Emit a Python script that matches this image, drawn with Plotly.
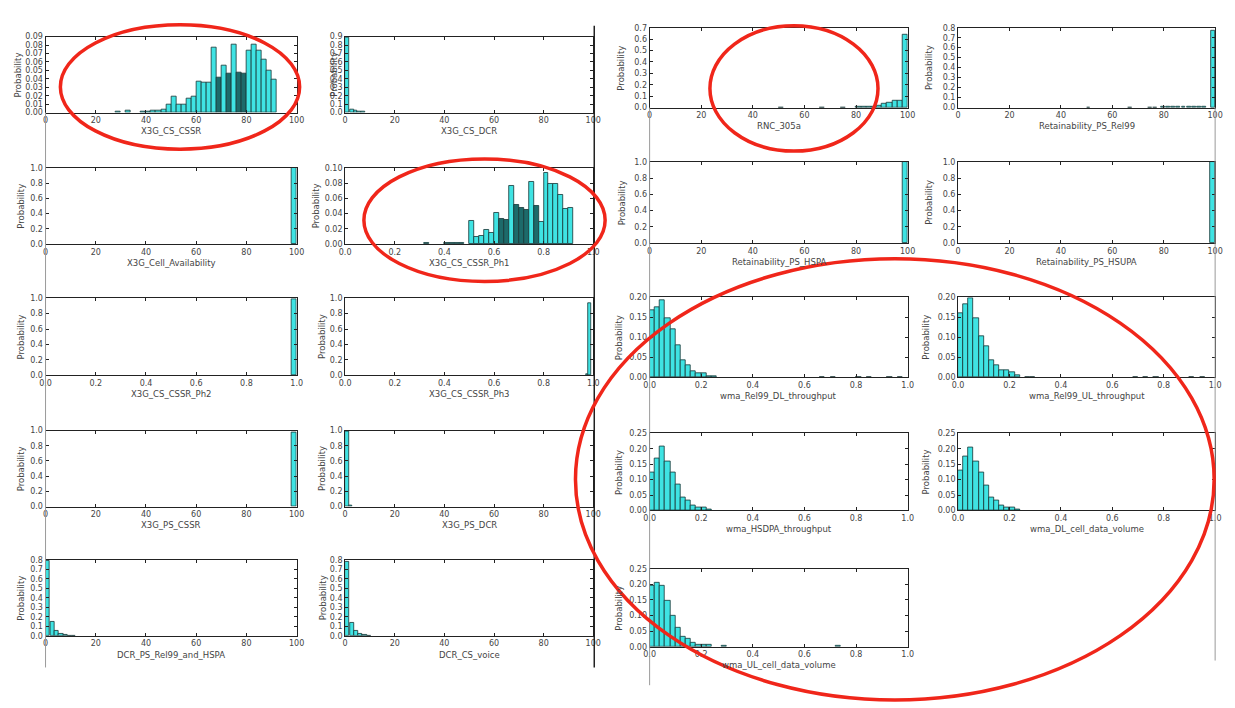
import plotly.graph_objects as go

W, H = 1235, 708

# ---------------- data (bin starts, bin width, probabilities) ----------------
cssr_x = [28, 32, 38, 40, 42, 44, 46, 48, 50, 52, 54, 56, 58, 60, 62, 64, 66, 68, 70, 72, 74, 76, 78, 80, 82, 84, 86, 88, 90]
cssr_p = [0.001, 0.002, 0.001, 0.001, 0.002, 0.002, 0.003, 0.010, 0.019, 0.009, 0.010, 0.017, 0.019, 0.037, 0.035, 0.035,
          0.077, 0.042, 0.056, 0.046, 0.081, 0.047, 0.046, 0.074, 0.080, 0.074, 0.063, 0.050, 0.039]
cssr_dark = [68, 72, 76, 78]

dcr_x = [0, 2, 3.5, 5, 6.5]
dcr_p = [0.89, 0.04, 0.025, 0.015, 0.01]

avail_x = [98]
avail_p = [1.0]

ph1_x = [0.32, 0.40, 0.42, 0.44, 0.46, 0.50, 0.52, 0.54, 0.56, 0.58, 0.60, 0.62, 0.64, 0.66, 0.68, 0.70, 0.72, 0.74,
         0.76, 0.78, 0.80, 0.82, 0.84, 0.86, 0.88, 0.90]
ph1_p = [0.002, 0.002, 0.002, 0.002, 0.001, 0.030, 0.009, 0.011, 0.018, 0.014, 0.041, 0.033, 0.032, 0.076, 0.051,
         0.047, 0.045, 0.082, 0.050, 0.029, 0.093, 0.079, 0.079, 0.065, 0.046, 0.047]
ph1_dark = [0.62, 0.64, 0.68, 0.70, 0.72, 0.76]

ph2_x = [0.98]
ph2_p = [0.99]

ph3_x = [0.97, 0.98]
ph3_p = [0.01, 0.94]

pscssr_x = [98]
pscssr_p = [0.97]

psdcr_x = [0, 1.5]
psdcr_p = [0.99, 0.02]

dcrps_x = [0, 1.9, 3.6, 5.3, 7.0, 8.7, 10.4]
dcrps_p = [0.79, 0.15, 0.05, 0.02, 0.01, 0.005, 0.004]

dcrv_x = [0, 1.9, 3.6, 5.3, 7.0, 8.7]
dcrv_p = [0.78, 0.14, 0.05, 0.02, 0.01, 0.005]

rnc_x = [50, 66, 74, 80, 82, 84, 86, 88, 90, 92, 94, 96, 98]
rnc_p = [0.002, 0.002, 0.002, 0.005, 0.005, 0.005, 0.006, 0.015, 0.038, 0.040, 0.061, 0.062, 0.642]

ret99_x = [50, 66, 74, 76, 79, 81, 83, 85, 87, 89, 91, 93, 95, 98.5]
ret99_p = [0.003, 0.003, 0.003, 0.003, 0.005, 0.005, 0.005, 0.006, 0.006, 0.007, 0.006, 0.006, 0.007, 0.77]

rethspa_x = [98]
rethspa_p = [1.0]

rethsupa_x = [98]
rethsupa_p = [1.0]

dl_x = [0.00, 0.02, 0.04, 0.06, 0.08, 0.10, 0.12, 0.14, 0.16, 0.18, 0.20, 0.22, 0.24, 0.66, 0.70, 0.80, 0.84, 0.92, 0.96]
dl_p = [0.168, 0.176, 0.192, 0.147, 0.121, 0.079, 0.042, 0.029, 0.016, 0.011, 0.010, 0.003, 0.002,
        0.001, 0.001, 0.001, 0.001, 0.001, 0.001]

ul_x = [0.00, 0.02, 0.04, 0.06, 0.08, 0.10, 0.12, 0.14, 0.16, 0.18, 0.20, 0.22, 0.26, 0.28, 0.68, 0.72, 0.76, 0.90, 0.94]
ul_p = [0.160, 0.183, 0.197, 0.147, 0.103, 0.078, 0.043, 0.030, 0.017, 0.017, 0.012, 0.004,
        0.001, 0.001, 0.001, 0.001, 0.001, 0.001, 0.001]

hsdpa_x = [0.00, 0.02, 0.04, 0.06, 0.08, 0.10, 0.12, 0.14, 0.16, 0.18, 0.20, 0.22]
hsdpa_p = [0.125, 0.170, 0.207, 0.160, 0.125, 0.083, 0.042, 0.032, 0.015, 0.010, 0.010, 0.003]

dlvol_x = [0.00, 0.02, 0.04, 0.06, 0.08, 0.10, 0.12, 0.14, 0.16, 0.18, 0.20, 0.22]
dlvol_p = [0.130, 0.175, 0.205, 0.160, 0.122, 0.082, 0.042, 0.032, 0.016, 0.010, 0.010, 0.003]

ulvol_x = [0.00, 0.02, 0.04, 0.06, 0.08, 0.10, 0.12, 0.14, 0.16, 0.18, 0.20, 0.22, 0.28, 0.72]
ulvol_p = [0.197, 0.205, 0.197, 0.148, 0.100, 0.060, 0.033, 0.025, 0.012, 0.008, 0.006, 0.006, 0.003, 0.002]

x100_ticks = [0, 20, 40, 60, 80, 100]
x1_ticks = [0.0, 0.2, 0.4, 0.6, 0.8, 1.0]

# ---------------- panel definitions ----------------
LA, LB = (40, 294), (343, 594)
RC, RD = (651, 912), (963, 1223)
LROWS = [(33, 110), (166, 243), (298, 376), (432, 509), (563, 640)]
RROWS = [(24, 105), (160, 242), (297, 378), (435, 513), (572, 651)]

panels = [
    ("X3G_CS_CSSR", cssr_x, cssr_p, 2, 100, 0.09, 0.01, ".2f", cssr_dark, LA, LROWS[0], 12),
    ("X3G_CS_DCR", dcr_x, dcr_p, 1.5, 100, 0.9, 0.1, ".1f", [], LB, LROWS[0], 331),
    ("X3G_Cell_Availability", avail_x, avail_p, 2, 100, 1.0, 0.2, ".1f", [], LA, LROWS[1], 15),
    ("X3G_CS_CSSR_Ph1", ph1_x, ph1_p, 0.02, 1, 0.10, 0.02, ".2f", ph1_dark, LB, LROWS[1], 313),
    ("X3G_CS_CSSR_Ph2", ph2_x, ph2_p, 0.02, 1, 1.0, 0.2, ".1f", [], LA, LROWS[2], 15),
    ("X3G_CS_CSSR_Ph3", ph3_x, ph3_p, 0.01, 1, 1.0, 0.2, ".1f", [], LB, LROWS[2], 319),
    ("X3G_PS_CSSR", pscssr_x, pscssr_p, 2, 100, 1.0, 0.2, ".1f", [], LA, LROWS[3], 15),
    ("X3G_PS_DCR", psdcr_x, psdcr_p, 1.5, 100, 1.0, 0.2, ".1f", [], LB, LROWS[3], 319),
    ("DCR_PS_Rel99_and_HSPA", dcrps_x, dcrps_p, 1.7, 100, 0.8, 0.1, ".1f", [], LA, LROWS[4], 15),
    ("DCR_CS_voice", dcrv_x, dcrv_p, 1.7, 100, 0.8, 0.1, ".1f", [], LB, LROWS[4], 320),
    ("RNC_305a", rnc_x, rnc_p, 2, 100, 0.7, 0.1, ".1f", [], RC, RROWS[0], 622),
    ("Retainability_PS_Rel99", ret99_x, ret99_p, 1.5, 100, 0.8, 0.1, ".1f", [], RD, RROWS[0], 933),
    ("Retainability_PS_HSPA", rethspa_x, rethspa_p, 2, 100, 1.0, 0.2, ".1f", [], RC, RROWS[1], 624),
    ("Retainability_PS_HSUPA", rethsupa_x, rethsupa_p, 2, 100, 1.0, 0.2, ".1f", [], RD, RROWS[1], 934),
    ("wma_Rel99_DL_throughput", dl_x, dl_p, 0.02, 1, 0.20, 0.05, ".2f", [], RC, RROWS[2], 620),
    ("wma_Rel99_UL_throughput", ul_x, ul_p, 0.02, 1, 0.20, 0.05, ".2f", [], RD, RROWS[2], 931),
    ("wma_HSDPA_throughput", hsdpa_x, hsdpa_p, 0.02, 1, 0.25, 0.05, ".2f", [], RC, RROWS[3], 620),
    ("wma_DL_cell_data_volume", dlvol_x, dlvol_p, 0.02, 1, 0.25, 0.05, ".2f", [], RD, RROWS[3], 931),
    ("wma_UL_cell_data_volume", ulvol_x, ulvol_p, 0.02, 1, 0.25, 0.05, ".2f", [], RC, RROWS[4], 620),
]

CYAN = "#3fe3e3"
DARK = "#1d6a6a"
EDGE = "#173535"
TICKFONT = dict(family="DejaVu Sans", size=8, color="#444")
LABFONT = dict(family="DejaVu Sans", size=8.5, color="#444")

fig = go.Figure()
annotations = []
for i, (label, xs, ps, bw, xmax, ymax, ydt, yfmt, dark, (x0, x1), (y0, y1), ylx) in enumerate(panels):
    n = i + 1
    sfx = "" if n == 1 else str(n)
    colors = [DARK if x in dark else CYAN for x in xs]
    fig.add_trace(go.Bar(
        x=[x + bw / 2 for x in xs], y=ps, width=bw,
        marker=dict(color=colors, line=dict(color=EDGE, width=0.8)),
        xaxis="x" + sfx, yaxis="y" + sfx, showlegend=False, hoverinfo="x+y",
    ))
    xticks = x100_ticks if xmax == 100 else x1_ticks
    xtext = [str(t) for t in xticks] if xmax == 100 else [f"{t:.1f}" for t in xticks]
    nyt = int(round(ymax / ydt))
    yticks = [k * ydt for k in range(nyt + 1)]
    ytext = [format(t, yfmt) for t in yticks]
    fig.layout["xaxis" + sfx] = dict(
        domain=[x0 / W, x1 / W], anchor="y" + sfx, range=[0, xmax],
        tickvals=xticks, ticktext=xtext, ticks="inside", ticklen=3, tickcolor="#222",
        showline=True, linecolor="#222", linewidth=1, mirror="ticks",
        showgrid=False, zeroline=False, tickfont=TICKFONT, fixedrange=True,
    )
    fig.layout["yaxis" + sfx] = dict(
        domain=[1 - y1 / H, 1 - y0 / H], anchor="x" + sfx, range=[0, ymax],
        tickvals=yticks, ticktext=ytext, ticks="inside", ticklen=3, tickcolor="#222",
        showline=True, linecolor="#222", linewidth=1, mirror="ticks",
        showgrid=False, zeroline=False, tickfont=TICKFONT, fixedrange=True,
    )
    annotations.append(dict(
        text=label, x=(x0 + x1) / 2 / W, y=1 - (y1 + 19) / H, xref="paper", yref="paper",
        showarrow=False, font=LABFONT, xanchor="center", yanchor="middle",
    ))
    annotations.append(dict(
        text="Probability", x=ylx / W, y=1 - (y0 + y1) / 2 / H, xref="paper", yref="paper",
        showarrow=False, font=LABFONT, textangle=-90, xanchor="center", yanchor="middle",
    ))

shapes = []
# screenshot separator lines
for (lx, ly0, ly1, col, lw) in [(40, 110, 672, "#9a9a9a", 1), (595, 22, 672, "#222", 1.5),
                                (651, 105, 690, "#9a9a9a", 1), (1223, 105, 665, "#9a9a9a", 1)]:
    shapes.append(dict(type="line", xref="paper", yref="paper", x0=lx / W, x1=lx / W,
                       y0=1 - ly0 / H, y1=1 - ly1 / H, line=dict(color=col, width=lw)))
# red annotation ellipses
for (ex0, ex1, ey0, ey1) in [(55, 297, 21, 147), (362, 606, 157, 281), (712, 882, 22, 149), (576, 1222, 258, 705)]:
    shapes.append(dict(type="circle", xref="paper", yref="paper", x0=ex0 / W, x1=ex1 / W,
                       y0=1 - ey1 / H, y1=1 - ey0 / H, line=dict(color="#f0261a", width=3.5),
                       layer="above"))

fig.update_layout(
    width=W, height=H, margin=dict(l=0, r=0, t=0, b=0),
    paper_bgcolor="white", plot_bgcolor="white",
    bargap=0, annotations=annotations, shapes=shapes,
)

fig.write_html("out.html", config={"displayModeBar": False},
               post_script="document.body.style.margin='0';")
